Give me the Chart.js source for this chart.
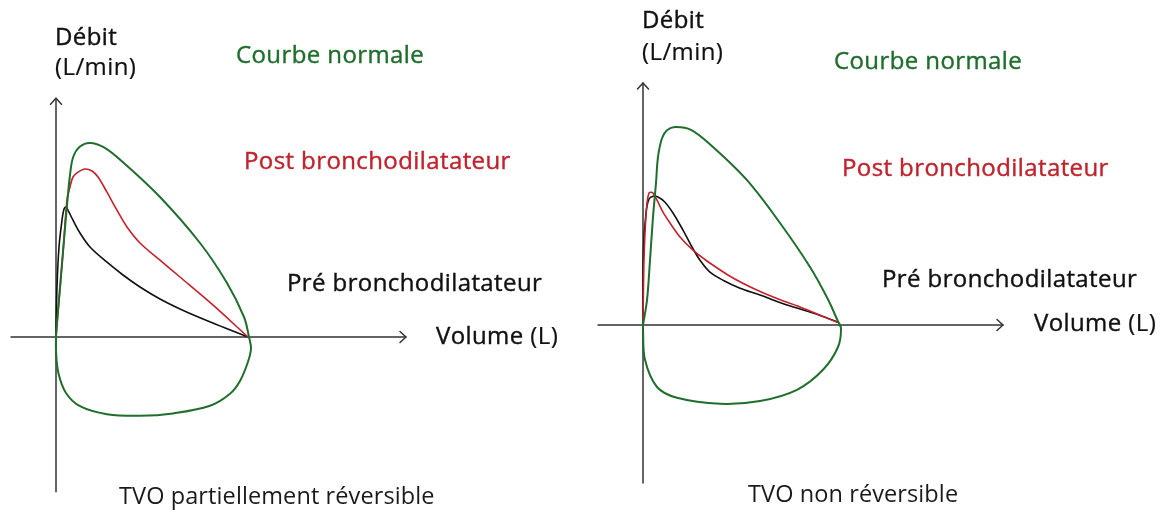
<!DOCTYPE html>
<html>
<head>
<meta charset="utf-8">
<script src="https://cdn.jsdelivr.net/npm/chart.js@4"></script>
<style>
  html, body { margin: 0; padding: 0; background: #ffffff; }
  #wrap { position: relative; width: 1168px; height: 510px; overflow: hidden; background: #fff; }
  canvas { position: absolute; top: 0; }
  .lbl { position: absolute; white-space: nowrap; font-family: "Open Sans", sans-serif; font-size: 24px; font-weight: 400; letter-spacing: 0.4px; line-height: 1; transform: translateY(-50%); color: #111; -webkit-text-stroke: 0.4px currentColor; }
  .green { color: #1f6e2c; }
  .red { color: #c0232c; }
  .light { -webkit-text-stroke: 0; color: #1a1a1a; font-size: 23.5px; letter-spacing: 0.1px; }
  .unit { -webkit-text-stroke: 0.2px currentColor; }
</style>
</head>
<body>
<div id="wrap">
  <canvas id="cLeft" width="584" height="510" style="left:0"></canvas>
  <canvas id="cRight" width="584" height="510" style="left:584px"></canvas>
</div>
<script>
// ---------- DATA (Volume in L, Débit in L/min) ----------
// Left panel : TVO partiellement réversible
const leftNormalVol  = [0, 0.03, 0.1, 0.2, 0.28, 0.35, 0.43, 0.6, 0.85, 1.2, 1.675, 2.6, 3.6, 4.275, 4.7, 4.825, 4.875, 4.8, 4.6, 4.35, 3.85, 2.925, 2.1, 1.275, 0.6, 0.25, 0.06, 0, 0];
const leftNormalFlow = [0, 42, 125, 243, 335, 405, 450, 476, 485, 474, 437, 350, 235, 135, 50, 0, -28, -62, -110, -142, -172, -191, -197, -193, -173, -140, -90, -35, 0];
const leftPostVol  = [0, 0.175, 0.275, 0.35, 0.425, 0.55, 0.725, 0.9, 1.05, 1.275, 1.525, 1.775, 2.1, 2.6, 3.1, 3.9, 4.8];
const leftPostFlow = [0, 210, 342, 375, 400, 412, 420, 415, 400, 362, 317, 275, 235, 192, 150, 82, 0];
const leftPreVol  = [0, 0.025, 0.075, 0.15, 0.2, 0.25, 0.325, 0.425, 0.6, 0.85, 1.275, 1.675, 2.1, 2.6, 3.1, 3.6, 4.2, 4.8];
const leftPreFlow = [0, 125, 225, 292, 320, 325, 312, 292, 260, 225, 187, 155, 125, 95, 70, 48, 24, 0];

// Right panel : TVO non réversible
const rightNormalVol  = [0, 0.1, 0.175, 0.25, 0.325, 0.375, 0.475, 0.6, 0.8, 1.2, 1.75, 2.6, 3.425, 4.175, 4.62, 4.87, 4.95, 4.875, 4.5, 3.85, 2.925, 1.925, 0.85, 0.35, 0.05, 0, 0];
const rightNormalFlow = [0, 62, 162, 270, 355, 420, 467, 487, 495, 488, 445, 362, 255, 145, 65, 10, -8, -55, -112, -162, -190, -197, -182, -155, -87, -12, 0];
const rightPostVol  = [0, 0.02, 0.05, 0.1, 0.15, 0.2, 0.25, 0.35, 0.5, 0.675, 0.925, 1.25, 1.6, 2.175, 2.75, 3.35, 4.0, 4.875];
const rightPostFlow = [0, 145, 230, 305, 330, 332, 330, 312, 282, 255, 220, 187, 160, 122, 92, 66, 42, 6];
const rightPreVol  = [0, 0.01, 0.075, 0.15, 0.25, 0.375, 0.55, 0.75, 1.0, 1.225, 1.425, 1.675, 2.0, 2.425, 2.925, 3.6, 4.25, 4.875];
const rightPreFlow = [0, 187, 280, 315, 322, 320, 307, 280, 237, 195, 162, 132, 112, 92, 75, 50, 30, 7];

// Axis extents (data units) and visible window per panel
const leftAxisVol   = [-1.125, 8.75];
const leftAxisFlow  = [-387, 597];
const rightAxisVol  = [-1.125, 9.0];
const rightAxisFlow = [-395, 605];
const leftWindowVol   = [-1.4, 13.2];
const leftWindowFlow  = [-432.5, 842.5];
const rightWindowVol  = [-1.475, 13.125];
const rightWindowFlow = [-462.5, 812.5];

// Text
const axisYTitle = ["Débit", "(L/min)"];
const axisXTitle = ["Volume", "(L)"];
const seriesNames = ["Courbe normale", "Post bronchodilatateur", "Pré bronchodilatateur"];
const panelTitles = ["TVO partiellement réversible", "TVO non réversible"];

// ---------- helpers ----------
const COLORS = { normal: "#1f6e2c", post: "#c3222b", pre: "#111111", axis: "#333333" };

function pts(vs, fs) { return vs.map((v, i) => ({ x: v, y: fs[i] })); }

const axesPlugin = {
  id: "arrowAxes",
  beforeDatasetsDraw(chart, args, opts) {
    const { ctx, scales: { x, y } } = chart;
    const x0 = x.getPixelForValue(0), y0 = y.getPixelForValue(0);
    const xl = x.getPixelForValue(opts.vol[0]), xr = x.getPixelForValue(opts.vol[1]);
    const yt = y.getPixelForValue(opts.flow[1]), yb = y.getPixelForValue(opts.flow[0]);
    ctx.save();
    ctx.strokeStyle = COLORS.axis;
    ctx.lineWidth = 1.5;
    ctx.lineCap = "round";
    ctx.lineJoin = "round";
    ctx.beginPath();
    ctx.moveTo(xl, y0); ctx.lineTo(xr, y0);
    ctx.moveTo(x0, yb); ctx.lineTo(x0, yt);
    ctx.stroke();
    ctx.beginPath();
    ctx.moveTo(xr - 6, y0 - 5.5); ctx.lineTo(xr, y0); ctx.lineTo(xr - 6, y0 + 5.5);
    ctx.moveTo(x0 - 5.5, yt + 6); ctx.lineTo(x0, yt); ctx.lineTo(x0 + 5.5, yt + 6);
    ctx.stroke();
    ctx.restore();
  }
};

function makeChart(id, series, win, axis) {
  return new Chart(document.getElementById(id), {
    type: "scatter",
    data: {
      datasets: [
        { label: seriesNames[0], data: series[0], borderColor: COLORS.normal, borderWidth: 2 },
        { label: seriesNames[1], data: series[1], borderColor: COLORS.post, borderWidth: 1.6 },
        { label: seriesNames[2], data: series[2], borderColor: COLORS.pre, borderWidth: 1.6 }
      ].map(d => Object.assign(d, { showLine: true, tension: 0.35, pointRadius: 0, fill: false }))
    },
    options: {
      responsive: false,
      animation: false,
      events: [],
      layout: { padding: 0 },
      plugins: { legend: { display: false }, tooltip: { enabled: false }, arrowAxes: axis },
      scales: {
        x: { type: "linear", display: false, min: win.vol[0], max: win.vol[1] },
        y: { type: "linear", display: false, min: win.flow[0], max: win.flow[1] }
      }
    },
    plugins: [axesPlugin]
  });
}

makeChart("cLeft",
  [pts(leftNormalVol, leftNormalFlow), pts(leftPostVol, leftPostFlow), pts(leftPreVol, leftPreFlow)],
  { vol: leftWindowVol, flow: leftWindowFlow },
  { vol: leftAxisVol, flow: leftAxisFlow });

makeChart("cRight",
  [pts(rightNormalVol, rightNormalFlow), pts(rightPostVol, rightPostFlow), pts(rightPreVol, rightPreFlow)],
  { vol: rightWindowVol, flow: rightWindowFlow },
  { vol: rightAxisVol, flow: rightAxisFlow });

// ---------- labels (real text) ----------
const xTitleHtml = '<span>' + axisXTitle[0] + '</span> <span class="unit">' + axisXTitle[1] + '</span>';
const labelSpecs = [
  // left panel
  { t: axisYTitle[0], x: 55, y: 36, c: "" },
  { t: axisYTitle[1], x: 55, y: 66, c: "unit" },
  { t: seriesNames[0], x: 236, y: 54, c: "green" },
  { t: seriesNames[1], x: 244, y: 160, c: "red" },
  { t: seriesNames[2], x: 287, y: 282, c: "" },
  { h: xTitleHtml, x: 436, y: 335, c: "" },
  { t: panelTitles[0], x: 119, y: 496, c: "light" },
  // right panel
  { t: axisYTitle[0], x: 642, y: 19, c: "" },
  { t: axisYTitle[1], x: 642, y: 51, c: "unit" },
  { t: seriesNames[0], x: 834, y: 60, c: "green" },
  { t: seriesNames[1], x: 842, y: 167, c: "red" },
  { t: seriesNames[2], x: 882, y: 278, c: "" },
  { h: xTitleHtml, x: 1034, y: 322, c: "" },
  { t: panelTitles[1], x: 748, y: 494, c: "light" }
];
const wrap = document.getElementById("wrap");
labelSpecs.forEach(s => {
  const d = document.createElement("div");
  d.className = "lbl " + s.c;
  if (s.h) d.innerHTML = s.h; else d.textContent = s.t;
  d.style.left = s.x + "px";
  d.style.top = s.y + "px";
  wrap.appendChild(d);
});
</script>
</body>
</html>
